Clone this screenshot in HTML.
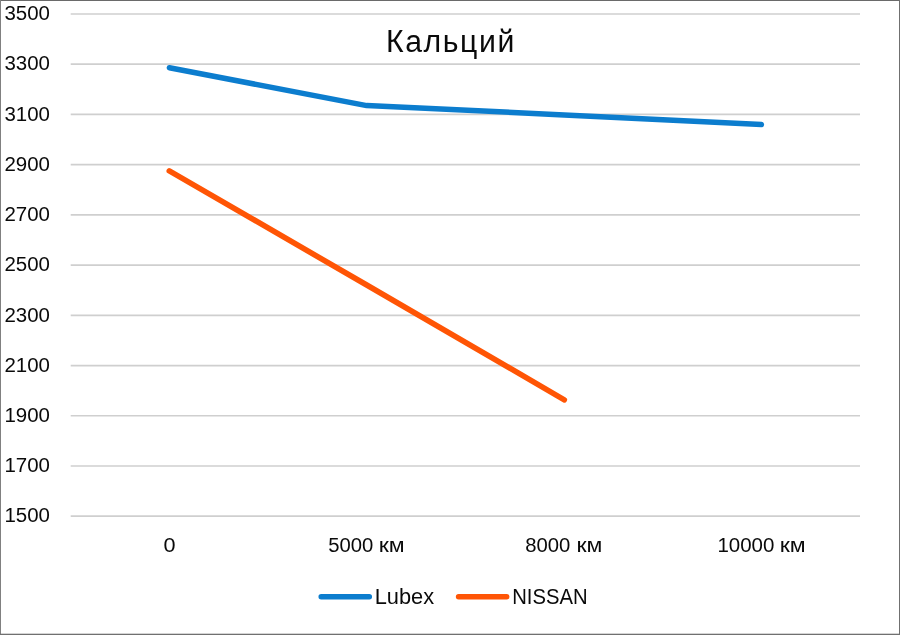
<!DOCTYPE html>
<html lang="ru">
<head>
<meta charset="utf-8">
<title>Кальций</title>
<style>
html,body{margin:0;padding:0;background:#fff;}
body{width:900px;height:635px;overflow:hidden;}
svg{display:block;}
text{font-family:"Liberation Sans",sans-serif;fill:#0a0a0a;}
</style>
</head>
<body>
<svg width="900" height="635" viewBox="0 0 900 635">
<rect x="0" y="0" width="900" height="635" fill="#ffffff"/>
<line x1="70.7" y1="14.00" x2="860.0" y2="14.00" stroke="#cfcfcf" stroke-width="1.7"/>
<line x1="70.7" y1="64.22" x2="860.0" y2="64.22" stroke="#cfcfcf" stroke-width="1.7"/>
<line x1="70.7" y1="114.44" x2="860.0" y2="114.44" stroke="#cfcfcf" stroke-width="1.7"/>
<line x1="70.7" y1="164.66" x2="860.0" y2="164.66" stroke="#cfcfcf" stroke-width="1.7"/>
<line x1="70.7" y1="214.88" x2="860.0" y2="214.88" stroke="#cfcfcf" stroke-width="1.7"/>
<line x1="70.7" y1="265.10" x2="860.0" y2="265.10" stroke="#cfcfcf" stroke-width="1.7"/>
<line x1="70.7" y1="315.32" x2="860.0" y2="315.32" stroke="#cfcfcf" stroke-width="1.7"/>
<line x1="70.7" y1="365.54" x2="860.0" y2="365.54" stroke="#cfcfcf" stroke-width="1.7"/>
<line x1="70.7" y1="415.76" x2="860.0" y2="415.76" stroke="#cfcfcf" stroke-width="1.7"/>
<line x1="70.7" y1="465.98" x2="860.0" y2="465.98" stroke="#cfcfcf" stroke-width="1.7"/>
<line x1="70.7" y1="516.20" x2="860.0" y2="516.20" stroke="#cfcfcf" stroke-width="1.7"/>
<text id="y3500" x="4.50" y="20.25" font-size="20.50" textLength="45.50" lengthAdjust="spacingAndGlyphs">3500</text>
<text id="y3300" x="4.50" y="70.47" font-size="20.50" textLength="45.50" lengthAdjust="spacingAndGlyphs">3300</text>
<text id="y3100" x="4.50" y="120.69" font-size="20.50" textLength="45.50" lengthAdjust="spacingAndGlyphs">3100</text>
<text id="y2900" x="4.50" y="170.91" font-size="20.50" textLength="45.50" lengthAdjust="spacingAndGlyphs">2900</text>
<text id="y2700" x="4.50" y="221.13" font-size="20.50" textLength="45.50" lengthAdjust="spacingAndGlyphs">2700</text>
<text id="y2500" x="4.50" y="271.35" font-size="20.50" textLength="45.50" lengthAdjust="spacingAndGlyphs">2500</text>
<text id="y2300" x="4.50" y="321.57" font-size="20.50" textLength="45.50" lengthAdjust="spacingAndGlyphs">2300</text>
<text id="y2100" x="4.50" y="371.79" font-size="20.50" textLength="45.50" lengthAdjust="spacingAndGlyphs">2100</text>
<text id="y1900" x="4.50" y="422.01" font-size="20.50" textLength="45.50" lengthAdjust="spacingAndGlyphs">1900</text>
<text id="y1700" x="4.50" y="472.23" font-size="20.50" textLength="45.50" lengthAdjust="spacingAndGlyphs">1700</text>
<text id="y1500" x="4.50" y="522.45" font-size="20.50" textLength="45.50" lengthAdjust="spacingAndGlyphs">1500</text>
<text id="title" letter-spacing="1.6" x="386.11" y="52.10" font-size="31.00" textLength="129.74" lengthAdjust="spacingAndGlyphs">Кальций</text>
<polyline points="169.4,67.8 366.7,105.6 564.2,114.9 761.4,124.6" fill="none" stroke="#0c7dce" stroke-width="5.5" stroke-linecap="round" stroke-linejoin="round"/>
<polyline points="169.3,170.9 366.7,285.0 564.3,399.8" fill="none" stroke="#ff5505" stroke-width="5.6" stroke-linecap="round" stroke-linejoin="round"/>
<text id="x0" x="163.50" y="551.85" font-size="20.56" textLength="12.05" lengthAdjust="spacingAndGlyphs">0</text>
<text id="x5000" y="551.85" font-size="20.56"><tspan id="x5000n" x="328.20" textLength="45.10" lengthAdjust="spacingAndGlyphs">5000</tspan> <tspan id="x5000u" x="378.80" font-size="19.73" textLength="25.90" lengthAdjust="spacingAndGlyphs">км</tspan></text>
<text id="x8000" y="551.85" font-size="20.56"><tspan id="x8000n" x="525.30" textLength="45.10" lengthAdjust="spacingAndGlyphs">8000</tspan> <tspan id="x8000u" x="576.40" font-size="19.73" textLength="25.90" lengthAdjust="spacingAndGlyphs">км</tspan></text>
<text id="x10000" y="551.85" font-size="20.56"><tspan id="x10000n" x="717.40" textLength="57.00" lengthAdjust="spacingAndGlyphs">10000</tspan> <tspan id="x10000u" x="779.80" font-size="19.73" textLength="25.90" lengthAdjust="spacingAndGlyphs">км</tspan></text>
<line x1="321.2" y1="596.7" x2="369.3" y2="596.7" stroke="#0c7dce" stroke-width="5.5" stroke-linecap="round"/>
<text id="Lubex" x="374.66" y="604.09" font-size="22.41" textLength="59.46" lengthAdjust="spacingAndGlyphs">Lubex</text>
<line x1="458.6" y1="596.7" x2="506.7" y2="596.7" stroke="#ff5505" stroke-width="5.5" stroke-linecap="round"/>
<text id="NISSAN" x="512.19" y="603.94" font-size="22.56" textLength="75.42" lengthAdjust="spacingAndGlyphs">NISSAN</text>
<rect x="0" y="0" width="900" height="1" fill="#6a6a6a"/>
<rect x="0" y="0" width="1" height="635" fill="#808080"/>
<rect x="899" y="0" width="1" height="635" fill="#707070"/>
<rect x="0" y="633.7" width="900" height="1.3" fill="#707070"/>
</svg>
</body>
</html>
